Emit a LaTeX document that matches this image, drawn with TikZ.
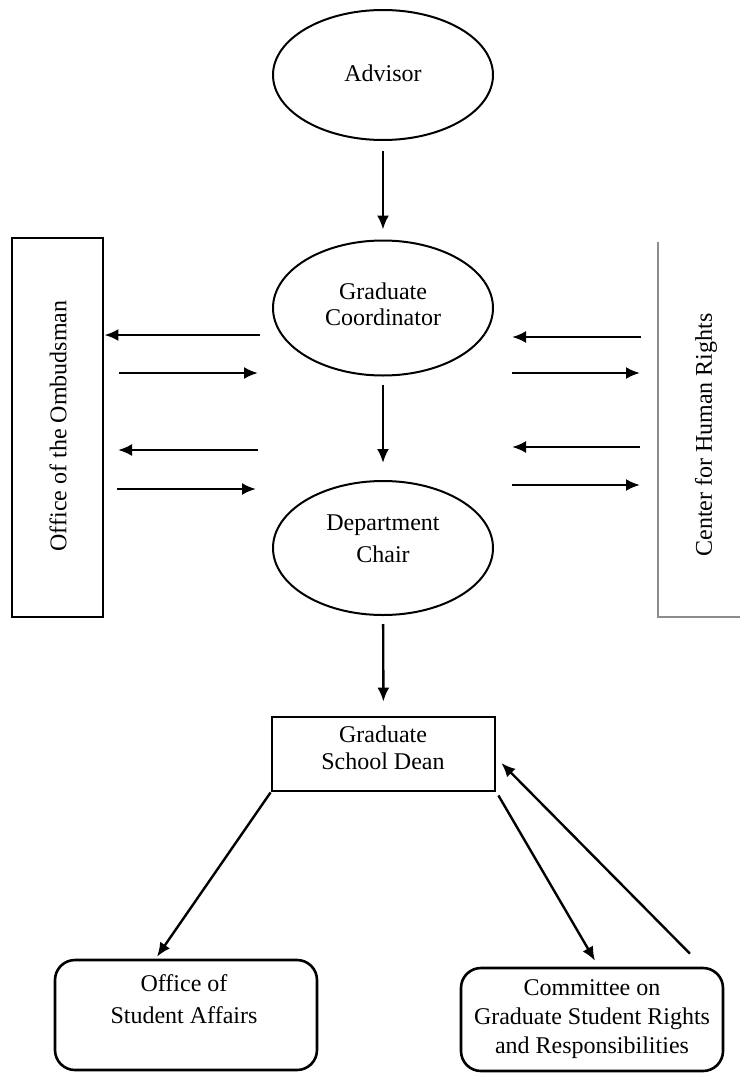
\documentclass[tikz,border=0pt]{standalone}
\usepackage{fontspec}
\setmainfont{Liberation Serif}
\usetikzlibrary{shapes.geometric,arrows.meta,calc}
\begin{document}
\begin{tikzpicture}[x=1pt,y=-1pt,
  every node/.style={align=center},
  txt/.style={inner sep=0pt, font=\fontsize{24}{27}\selectfont},
  oval/.style={draw, ellipse, line width=2pt, minimum width=220pt, minimum height=134pt, inner sep=0pt},
  box/.style={draw, rectangle, line width=2.8pt, inner sep=0pt},
  rbox/.style={draw, rectangle, rounded corners=20pt, line width=2.6pt, inner sep=0pt},
  arr/.style={line width=2.4pt, -{Latex[length=14pt,width=12pt]}}]
\useasboundingbox (0,0) rectangle (740,1074);

% ellipses
\node[oval, minimum height=130pt] (advisor) at (383,75) {};
\node[txt] (advtext) at (383,73) {Advisor};
\node[oval, minimum height=135pt] (coord) at (383,308) {};
\node[txt, font=\fontsize{24}{26}\selectfont] (coordtext) at (383,304) {Graduate\\Coordinator};
\node[oval] (chair) at (383,548) {};
\node[txt, font=\fontsize{24}{32}\selectfont] (chairtext) at (383,539) {Department\\Chair};

% dean
\node[box, minimum width=223pt, minimum height=74pt] (dean) at (383.5,754) {};
\node[txt] (deantext) at (383,748) {Graduate\\School Dean};

% side boxes
\node[box, minimum width=91pt, minimum height=379pt] (ombud) at (57.5,427.5) {};
\node[txt, rotate=90] (ombtext) at (58,426) {Office of the Ombudsman};
\node[minimum width=82pt, minimum height=375pt, inner sep=0pt] (chr) at (699,429.5) {};
\draw[black!45, line width=1.8pt] (chr.north west) -- (chr.south west) -- (chr.south east);
\node[txt, rotate=90] (chrtext) at (706,435) {Center for Human Rights};

% bottom boxes
\node[rbox, minimum width=262pt, minimum height=110pt] (office) at (186,1015) {};
\node[txt, font=\fontsize{24}{32}\selectfont] (officetext) at (184,999) {Office of\\Student Affairs};
\node[rbox, minimum width=262pt, minimum height=103pt] (comm) at (592,1019.5) {};
\node[txt, font=\fontsize{24}{29}\selectfont] (commtext) at (592,1019) {Committee on\\Graduate Student Rights\\and Responsibilities};

% vertical arrows
\draw[arr, shorten <=10pt, shorten >=10pt] (advisor) -- (coord);
\draw[arr, shorten <=8pt, shorten >=17pt] (coord) -- (chair);
\draw[arr, shorten <=8pt, shorten >=14pt] (chair) -- (dean);

% left arrows
\coordinate (l1s) at (260,335);
\coordinate (l2s) at (119,373);
\coordinate (l2e) at (258,373);
\coordinate (l3s) at (258,450);
\coordinate (l3e) at (118,450);
\coordinate (l4s) at (117,489);
\coordinate (l4e) at (256,489);
\draw[arr] (l1s) -- (ombud.east |- l1s);
\draw[arr] (l2s) -- (l2e);
\draw[arr] (l3s) -- (l3e);
\draw[arr] (l4s) -- (l4e);

% right arrows
\coordinate (r1s) at (641,337);
\coordinate (r1e) at (512,337);
\coordinate (r2s) at (512,373);
\coordinate (r2e) at (640,373);
\coordinate (r3s) at (640,447);
\coordinate (r3e) at (512,447);
\coordinate (r4s) at (512,485);
\coordinate (r4e) at (640,485);
\draw[arr] (r1s) -- (r1e);
\draw[arr] (r2s) -- (r2e);
\draw[arr] (r3s) -- (r3e);
\draw[arr] (r4s) -- (r4e);

% diagonal arrows
\draw[arr] (dean.south west) -- ($(office.north)+(-29,-2)$);
\draw[arr] ($(dean.south east)+(2,3)$) -- ($(comm.north)+(3,-6)$);
\coordinate (cstart) at ($(comm.north)+(98,-13)$);
\draw[arr] (cstart) -- ($(dean.east)+(5,9)$);
\end{tikzpicture}
\end{document}
